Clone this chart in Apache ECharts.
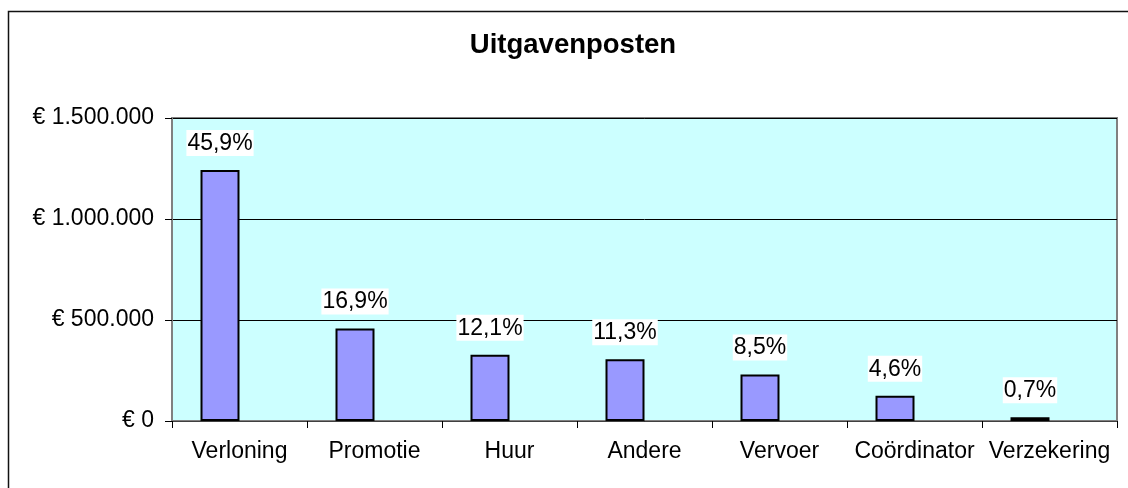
<!DOCTYPE html>
<html>
<head>
<meta charset="utf-8">
<title>Uitgavenposten</title>
<script src="https://cdn.jsdelivr.net/npm/echarts@6/dist/echarts.min.js"></script>
<style>
  html, body { margin: 0; padding: 0; background: #ffffff; }
  #chart { width: 1128px; height: 488px; }
</style>
</head>
<body>
<div id="chart"></div>
<script>
// Expense items (euro amounts)
const categories = ['Verloning', 'Promotie', 'Huur', 'Andere', 'Vervoer', 'Coördinator', 'Verzekering'];
const amounts = [1242500, 457500, 327500, 306000, 230000, 124500, 19000];
const yTicks = [0, 500000, 1000000, 1500000];

const total = amounts.reduce((s, v) => s + v, 0);
const pct = v => (v / total * 100).toFixed(1).replace('.', ',') + '%';
const euro = v => '€ ' + String(v).replace(/\B(?=(\d{3})+(?!\d))/g, '.');

const FONT = '"Liberation Sans", Arial, sans-serif';

const chart = echarts.init(document.getElementById('chart'), null, { renderer: 'canvas' });
chart.setOption({
  backgroundColor: '#ffffff',
  animation: false,
  title: {
    text: 'Uitgavenposten',
    left: 568,
    top: 26,
    textAlign: 'center',
    textStyle: { fontFamily: FONT, fontSize: 27.5, fontWeight: 'bold', color: '#000' }
  },
  graphic: [{
    type: 'rect',
    shape: { x: 8.5, y: 11.5, width: 1400, height: 800 },
    style: { fill: 'none', stroke: '#111', lineWidth: 1.5 },
    z: 100
  }],
  grid: {
    left: 172, top: 118, right: 11, bottom: 67,
    show: true,
    backgroundColor: '#CCFFFF',
    borderColor: '#808080',
    borderWidth: 2
  },
  xAxis: {
    type: 'category',
    data: categories,
    axisLine: { show: true, lineStyle: { color: '#404040', width: 1 } },
    axisTick: { show: true, length: 7, lineStyle: { color: '#000', width: 1 } },
    axisLabel: { margin: 19, fontFamily: FONT, fontSize: 23, color: '#000', interval: 0 }
  },
  yAxis: {
    type: 'value',
    min: yTicks[0],
    max: yTicks[yTicks.length - 1],
    interval: yTicks[1] - yTicks[0],
    axisLine: { show: true, lineStyle: { color: '#808080', width: 2 } },
    axisTick: { show: true, length: 7, lineStyle: { color: '#000', width: 1 } },
    splitLine: { show: true, lineStyle: { color: '#000', width: 1 } },
    axisLabel: { margin: 18, fontFamily: FONT, fontSize: 23, color: '#000', formatter: euro }
  },
  series: [
    {
      name: 'Bedrag',
      type: 'bar',
      data: amounts,
      barWidth: 39,
      barGap: '0%',
      itemStyle: { color: '#9999FF', borderColor: '#000', borderWidth: 2 },
      label: {
        show: true,
        position: 'top',
        distance: 14,
        formatter: p => pct(p.value),
        fontFamily: FONT,
        fontSize: 23,
        color: '#000',
        backgroundColor: '#ffffff',
        padding: [2, 1, 1, 1]
      }
    },
    {
      name: 'Leeg',
      type: 'bar',
      data: categories.map(() => '-'),
      barWidth: 39
    }
  ]
});
</script>
</body>
</html>
